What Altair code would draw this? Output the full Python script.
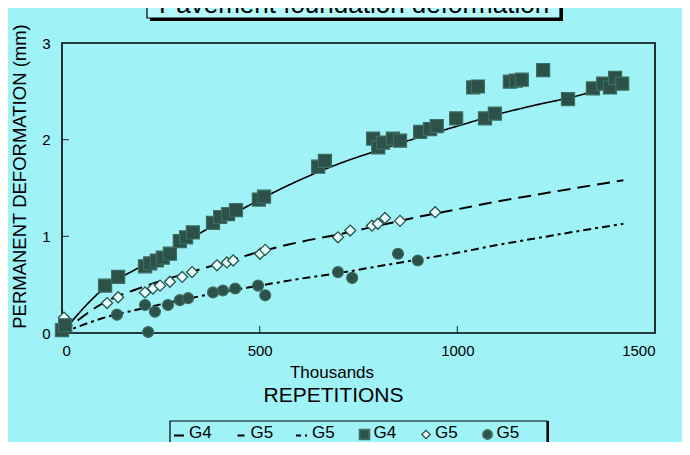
import altair as alt
import pandas as pd

# ---------------- data ----------------
# measured points (x in thousands of repetitions, y in mm)
g4_sq_x = [0, 8, 109, 142, 210, 223, 240, 255, 273, 298, 314, 331, 382, 400, 420, 440,
           498, 511, 648, 665, 787, 800, 812, 837, 855, 906, 931, 948, 997, 1040, 1052,
           1070, 1095, 1133, 1148, 1163, 1217, 1280, 1343, 1369, 1386, 1399, 1417]
g4_sq_y = [0.03, 0.08, 0.49, 0.58, 0.69, 0.72, 0.75, 0.78, 0.82, 0.95, 0.99, 1.04, 1.14, 1.20,
           1.23, 1.27, 1.38, 1.41, 1.72, 1.78, 2.01, 1.92, 1.97, 2.01, 1.99, 2.08, 2.11,
           2.14, 2.22, 2.54, 2.55, 2.22, 2.27, 2.60, 2.61, 2.62, 2.72, 2.42, 2.53, 2.58,
           2.54, 2.64, 2.58]

g5_dia_x = [5, 114, 142, 210, 230, 248, 273, 304, 329, 392, 417, 433, 501, 514,
            698, 729, 784, 799, 817, 855, 944]
g5_dia_y = [0.16, 0.31, 0.37, 0.42, 0.46, 0.49, 0.53, 0.58, 0.63, 0.70, 0.73, 0.75, 0.82,
            0.86, 0.99, 1.06, 1.11, 1.13, 1.19, 1.16, 1.25]

g5_cir_x = [3, 139, 210, 218, 235, 268, 298, 319, 382, 407, 438, 496, 514, 698, 734, 850, 900]
g5_cir_y = [0.06, 0.19, 0.29, 0.01, 0.22, 0.29, 0.34, 0.36, 0.42, 0.44, 0.46, 0.49, 0.39,
            0.63, 0.57, 0.82, 0.75]

# fitted curves
fit_x = [0, 100, 200, 300, 400, 500, 600, 700, 800, 900, 1000, 1100, 1200, 1300, 1420]
fit_g4_y = [0.0, 0.44, 0.69, 0.92, 1.15, 1.38, 1.58, 1.75, 1.89, 2.02, 2.14, 2.26, 2.36, 2.45, 2.60]
fit_g5a_y = [0.0, 0.30, 0.47, 0.60, 0.72, 0.84, 0.94, 1.02, 1.11, 1.20, 1.28, 1.36, 1.43, 1.50, 1.58]
fit_g5b_y = [0.0, 0.15, 0.25, 0.34, 0.42, 0.49, 0.56, 0.62, 0.69, 0.76, 0.83, 0.91, 0.98, 1.05, 1.13]

legend_labels = ["G4", "G5", "G5", "G4", "G5", "G5"]

title_text = "Pavement foundation deformation"
x_title = "REPETITIONS"
x_subtitle = "Thousands"
y_title = "PERMANENT DEFORMATION (mm)"
x_ticks = [0, 500, 1000, 1500]
y_ticks = [0, 1, 2, 3]

# ---------------- styling ----------------
BG = "#9ff2f6"
DARK = "#2b5148"
EDGE = "#3f6d62"
FONT = "Liberation Sans"
W, H = 593, 290

DASH = {"solid": [1, 0], "dash": [13, 7], "dashdot": [8, 4, 3, 4]}

xscale = alt.Scale(domain=[0, 1500], nice=False, zero=True)
yscale = alt.Scale(domain=[0, 3], nice=False)

xenc = alt.X("x:Q", scale=xscale,
             axis=alt.Axis(values=x_ticks, format="d", title=x_title, grid=False, ticks=False,
                           domain=False, labelFontSize=15, labelPadding=10,
                           labelFont=FONT, titleFont=FONT, titleFontSize=21,
                           titleFontWeight="normal", titleX=271, titleY=51,
                           labelColor="black", titleColor="black"))
yenc = alt.Y("y:Q", scale=yscale,
             axis=alt.Axis(values=y_ticks, format="d", title=y_title, grid=False, ticks=False,
                           domain=False, labelFontSize=15, labelPadding=12,
                           labelFont=FONT, titleFont=FONT, titleFontSize=18.5,
                           titleFontWeight="normal", titleX=-33, titleY=133,
                           labelColor="black", titleColor="black"))

layers = []

# inside tick marks
layers.append(alt.Chart(pd.DataFrame({"y": y_ticks[1:-1]})).mark_tick(
    color="black", orient="horizontal", thickness=1.2, size=7).encode(
    y=alt.Y("y:Q", scale=yscale), x=alt.value(3.5)))
layers.append(alt.Chart(pd.DataFrame({"x": x_ticks[1:-1]})).mark_tick(
    color="black", orient="vertical", thickness=1.2, size=7).encode(
    x=alt.X("x:Q", scale=xscale), y=alt.value(H - 3.5)))

# fitted curves
for ys, style, sw in [(fit_g4_y, "solid", 1.6), (fit_g5a_y, "dash", 2.0),
                      (fit_g5b_y, "dashdot", 2.0)]:
    df = pd.DataFrame({"x": fit_x, "y": ys})
    layers.append(
        alt.Chart(df).mark_line(color="black", strokeWidth=sw,
                                strokeDash=DASH[style], interpolate="monotone")
        .encode(x=xenc, y=yenc)
    )

# measured points
layers.append(alt.Chart(pd.DataFrame({"x": g5_cir_x, "y": g5_cir_y})).mark_point(
    shape="circle", filled=True, fill=DARK, stroke=EDGE, strokeWidth=1.2, size=120,
    opacity=1).encode(x=xenc, y=yenc))
layers.append(alt.Chart(pd.DataFrame({"x": g5_dia_x, "y": g5_dia_y})).mark_point(
    shape="diamond", filled=True, fill="#e8ffff", stroke=DARK, strokeWidth=1.3, size=120,
    opacity=1).encode(x=xenc, y=yenc))
layers.append(alt.Chart(pd.DataFrame({"x": g4_sq_x, "y": g4_sq_y})).mark_point(
    shape="square", filled=True, fill=DARK, stroke=EDGE, strokeWidth=1.2, size=170,
    opacity=1).encode(x=xenc, y=yenc))

# title box with drop shadow, and the title (cut off by the page top)
tdf = pd.DataFrame({"t": [title_text]})
layers.append(alt.Chart(tdf).mark_rect(color="black").encode(
    x=alt.value(88), x2=alt.value(501), y=alt.value(-60), y2=alt.value(-22)))
layers.append(alt.Chart(tdf).mark_rect(fill="#b4f8fb", stroke="black", strokeWidth=1.2).encode(
    x=alt.value(85), x2=alt.value(498), y=alt.value(-62), y2=alt.value(-25)))
layers.append(alt.Chart(tdf).mark_text(font=FONT, fontSize=26, color="black",
                                       baseline="alphabetic", align="center").encode(
    x=alt.value(292), y=alt.value(-30), text="t:N"))

# "Thousands" line above the x axis title
layers.append(alt.Chart(pd.DataFrame({"t": [x_subtitle]})).mark_text(
    font=FONT, fontSize=17, color="black", align="center", baseline="middle").encode(
    x=alt.value(270), y=alt.value(330), text="t:N"))

# ---------------- legend (drawn box at the bottom) ----------------
LX0, LX1, LY0, LY1 = 108, 485, 378, 425
layers.append(alt.Chart(tdf).mark_rect(color="black").encode(
    x=alt.value(LX1 - 1), x2=alt.value(LX1 + 2), y=alt.value(LY0), y2=alt.value(LY1)))
layers.append(alt.Chart(tdf).mark_rect(fill=BG, stroke="black", strokeWidth=1.2).encode(
    x=alt.value(LX0), x2=alt.value(LX1), y=alt.value(LY0), y2=alt.value(LY1)))

step = 61.5
sym_x0 = 118
ty = 389.5
for i, lab in enumerate(legend_labels):
    cx = sym_x0 + i * step
    if i == 0:
        layers.append(alt.Chart(tdf).mark_rule(color="black", strokeWidth=2).encode(
            x=alt.value(cx - 6), x2=alt.value(cx + 4), y=alt.value(ty + 3)))
    elif i == 1:
        layers.append(alt.Chart(tdf).mark_rule(color="black", strokeWidth=2).encode(
            x=alt.value(cx - 4), x2=alt.value(cx + 3), y=alt.value(ty + 3)))
    elif i == 2:
        layers.append(alt.Chart(tdf).mark_rule(color="black", strokeWidth=2,
                                               strokeDash=[5, 4, 2, 4]).encode(
            x=alt.value(cx - 7), x2=alt.value(cx + 5), y=alt.value(ty + 3)))
    elif i == 3:
        layers.append(alt.Chart(tdf).mark_point(shape="square", filled=True, fill=DARK,
                                                stroke=EDGE, size=90, opacity=1).encode(
            x=alt.value(cx), y=alt.value(ty + 2)))
    elif i == 4:
        layers.append(alt.Chart(tdf).mark_point(shape="diamond", filled=True, fill="#e8ffff",
                                                stroke=DARK, strokeWidth=1.3, size=70,
                                                opacity=1).encode(
            x=alt.value(cx), y=alt.value(ty + 2)))
    else:
        layers.append(alt.Chart(tdf).mark_point(shape="circle", filled=True, fill=DARK,
                                                stroke=EDGE, size=80, opacity=1).encode(
            x=alt.value(cx), y=alt.value(ty + 2)))
    layers.append(alt.Chart(pd.DataFrame({"t": [lab]})).mark_text(
        font=FONT, fontSize=17, color="black", align="left", baseline="middle").encode(
        x=alt.value(cx + 9), y=alt.value(ty), text="t:N"))

chart = alt.layer(*layers).properties(
    width=W, height=H,
    autosize=alt.AutoSizeParams(type="none"),
    padding={"left": 54, "top": 35, "right": 27, "bottom": 109},
    background=BG,
).configure_view(stroke="black", strokeWidth=1.6, fill=BG)

chart.save("out.html", embed_options={"renderer": "svg", "actions": False})
